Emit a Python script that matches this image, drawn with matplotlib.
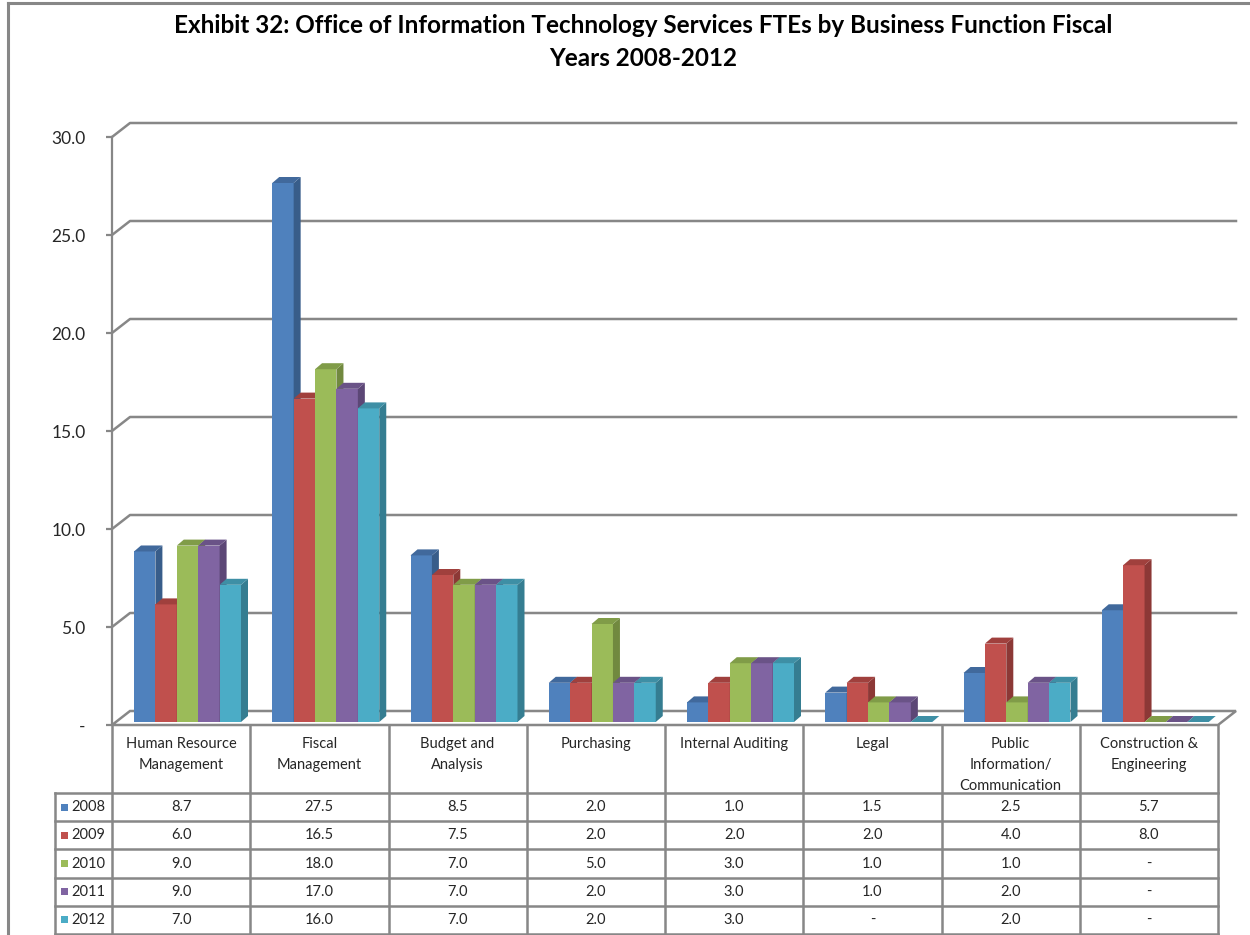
import matplotlib.pyplot as plt
from matplotlib.patches import Polygon, Rectangle
from matplotlib.lines import Line2D

plt.rcParams['font.family'] = ['Lato', 'DejaVu Sans']

categories = ["Human Resource\nManagement", "Fiscal\nManagement", "Budget and\nAnalysis",
              "Purchasing", "Internal Auditing", "Legal",
              "Public\nInformation/\nCommunication", "Construction &\nEngineering"]
years = ["2008", "2009", "2010", "2011", "2012"]
fte_2008 = [8.7, 27.5, 8.5, 2.0, 1.0, 1.5, 2.5, 5.7]
fte_2009 = [6.0, 16.5, 7.5, 2.0, 2.0, 2.0, 4.0, 8.0]
fte_2010 = [9.0, 18.0, 7.0, 5.0, 3.0, 1.0, 1.0, 0.0]
fte_2011 = [9.0, 17.0, 7.0, 2.0, 3.0, 1.0, 2.0, 0.0]
fte_2012 = [7.0, 16.0, 7.0, 2.0, 3.0, 0.0, 2.0, 0.0]
series = [fte_2008, fte_2009, fte_2010, fte_2011, fte_2012]
yticks = [0, 5, 10, 15, 20, 25, 30]
ytick_labels = ["-", "5.0", "10.0", "15.0", "20.0", "25.0", "30.0"]

title = ("Exhibit 32: Office of Information Technology Services FTEs by Business Function Fiscal\n"
         "Years 2008-2012")

front_c = ["#4F81BD", "#C0504D", "#9BBB59", "#8064A2", "#4BACC6"]
side_c = ["#385D8A", "#8C3836", "#71893F", "#5C4776", "#357D91"]
top_c = ["#41699C", "#A0403D", "#809C48", "#6A5387", "#3E8FA5"]
grid_c = "#878787"
text_c = "#262626"

W, H = 1250, 935
fig = plt.figure(figsize=(W / 100, H / 100), dpi=100)
fig.patch.set_facecolor("white")


def fx(px):
    return px / W


def fy(py):
    return 1 - py / H


# outer chart border (left and top edges visible)
fig.add_artist(Line2D([fx(8), fx(8)], [fy(3), 0], color=grid_c, lw=2.2))
fig.add_artist(Line2D([fx(8), 1], [fy(3), fy(3)], color=grid_c, lw=2.2))

fig.text(fx(643), fy(14), title, ha="center", va="top", fontsize=17.5, fontweight="bold",
         color="black", linespacing=1.5)

# main plot area: front plane of the 3D chart
ax = fig.add_axes([fx(112), fy(725), fx(1218) - fx(112), fy(137) - fy(725)])
ncat = len(categories)
ax.set_xlim(0, ncat)
ax.set_ylim(0, 30)
ax.patch.set_visible(False)
for s in ["top", "right", "bottom"]:
    ax.spines[s].set_visible(False)
ax.spines["left"].set_color(grid_c)
ax.spines["left"].set_linewidth(1.6)
ax.set_xticks([])
ax.set_yticks(yticks)
ax.set_yticklabels(ytick_labels, fontsize=12.5, color=text_c)
ax.tick_params(axis="y", direction="out", length=4, width=1.6, color=grid_c, pad=15)

ux = ncat / (1218 - 112)   # data units per pixel
uy = 30 / (725 - 137)
wall_dx, wall_dy = 18 * ux, 14 * uy

# floor and back wall gridlines
ax.add_patch(Polygon([(0, 0), (wall_dx, wall_dy), (ncat + wall_dx, wall_dy), (ncat, 0)],
                     closed=True, facecolor="white", edgecolor=grid_c, lw=1.8,
                     clip_on=False, zorder=1))
for t in yticks[1:]:
    ax.plot([0, wall_dx, ncat + wall_dx], [t, t + wall_dy, t + wall_dy],
            color=grid_c, lw=1.8, clip_on=False, zorder=1)

# 3D columns
bw = 21.4 * ux
bdx, bdy = 7 * ux, 6 * uy
b0 = 3 * uy
for i in range(ncat):
    for j, vals in enumerate(series):
        v = vals[i]
        x0 = i + 22 * ux + j * bw
        z = 3 + i * 10 + j * 2
        ax.add_patch(Rectangle((x0, b0), bw, v, facecolor=front_c[j], edgecolor="none",
                               clip_on=False, zorder=z))
        ax.add_patch(Polygon([(x0 + bw, b0), (x0 + bw + bdx, b0 + bdy),
                              (x0 + bw + bdx, b0 + v + bdy), (x0 + bw, b0 + v)],
                             closed=True, facecolor=side_c[j], edgecolor="none",
                             clip_on=False, zorder=z))
        ax.add_patch(Polygon([(x0, b0 + v), (x0 + bdx, b0 + v + bdy),
                              (x0 + bw + bdx, b0 + v + bdy), (x0 + bw, b0 + v)],
                             closed=True, facecolor=top_c[j], edgecolor="none",
                             clip_on=False, zorder=z + 1))

# data table below the chart
tax = fig.add_axes([fx(112), fy(935), fx(1218) - fx(112), fy(725) - fy(935)])
tax.set_xlim(0, ncat)
tax.set_ylim(210, 0)
tax.axis("off")
head_h = 68
row_h = 28.2
leg_left = (55 - 112) * ux
lw_t = 1.8
for i in range(ncat + 1):
    tax.plot([i, i], [0, 215], color=grid_c, lw=lw_t, clip_on=False)
tax.plot([leg_left, leg_left], [head_h, 215], color=grid_c, lw=lw_t, clip_on=False)
for k in range(len(years) + 1):
    yy = head_h + k * row_h
    tax.plot([leg_left, ncat], [yy, yy], color=grid_c, lw=lw_t, clip_on=False)

for i, cat in enumerate(categories):
    tax.text(i + 0.5, 12, cat, ha="center", va="top", fontsize=10.5, color=text_c,
             linespacing=1.65)

for j, (yr, vals) in enumerate(zip(years, series)):
    yc = head_h + (j + 0.5) * row_h
    tax.add_patch(Rectangle((leg_left + 6 * ux, yc - 3.5), 7 * ux, 7,
                            facecolor=front_c[j], edgecolor="none", clip_on=False))
    tax.text(leg_left + 16 * ux, yc, yr, ha="left", va="center", fontsize=10.5, color=text_c)
    for i, v in enumerate(vals):
        label = f"{v:.1f}" if v else "-"
        tax.text(i + 0.5, yc, label, ha="center", va="center", fontsize=10.5, color=text_c)

fig.savefig("out.png", dpi=100)
